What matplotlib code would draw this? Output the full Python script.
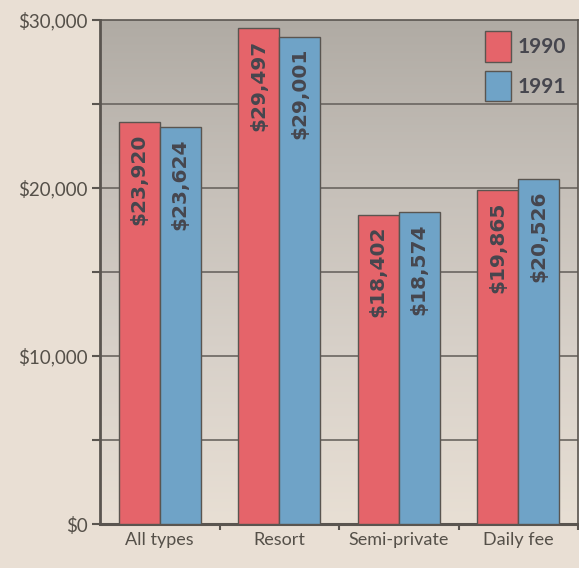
import matplotlib
matplotlib.use("Agg")
import matplotlib.pyplot as plt
import numpy as np
from matplotlib.colors import LinearSegmentedColormap

categories = ["All types", "Resort", "Semi-private", "Daily fee"]
series_1990 = [23920, 29497, 18402, 19865]
series_1991 = [23624, 29001, 18574, 20526]
labels_1990 = ["$23,920", "$29,497", "$18,402", "$19,865"]
labels_1991 = ["$23,624", "$29,001", "$18,574", "$20,526"]
ytick_vals = [0, 10000, 20000, 30000]
ytick_labels = ["$0", "$10,000", "$20,000", "$30,000"]

plt.rcParams['font.family'] = ['Lato', 'DejaVu Sans']

paper = "#e9dfd4"
red = "#e5646a"
blue = "#6fa3c7"
edge = "#5a5550"
textc = "#555049"

fig = plt.figure(figsize=(5.79, 5.68), dpi=100, facecolor=paper)
ax = fig.add_axes([100/579, 44/568, 478/579, 504/568])
ax.set_facecolor(paper)

x = np.arange(len(categories))
w = 0.345
ax.set_xlim(-0.5, len(categories) - 0.5)
ax.set_ylim(0, 30000)

# gradient background
cmap = LinearSegmentedColormap.from_list("bg", ["#e8dfd4", "#d8d1c9", "#c6c0b9", "#b0aba4"])
grad = np.linspace(0, 1, 256).reshape(-1, 1)
ax.imshow(grad, extent=[-0.5, len(categories) - 0.5, 0, 30000], origin="lower",
          aspect="auto", cmap=cmap, zorder=0)

for yv in range(5000, 30000, 5000):
    ax.axhline(yv, color="#6a6560", lw=1.2, zorder=1)

b1 = ax.bar(x - w/2, series_1990, w, color=red, edgecolor=edge, lw=1.0, zorder=3)
b2 = ax.bar(x + w/2, series_1991, w, color=blue, edgecolor=edge, lw=1.0, zorder=3)

for bars, labs in ((b1, labels_1990), (b2, labels_1991)):
    for rect, lab in zip(bars, labs):
        ax.annotate(lab, (rect.get_x() + rect.get_width()/2, rect.get_height()),
                    xytext=(0, -8), textcoords="offset points", rotation=90,
                    ha="center", va="top", fontsize=14.5, fontweight="bold",
                    family="DejaVu Sans", color="#46464e", zorder=4)

all_ticks = list(range(0, 30001, 5000))
ax.set_yticks(all_ticks)
ax.set_yticklabels([ytick_labels[ytick_vals.index(v)] if v in ytick_vals else "" for v in all_ticks],
                   fontsize=13.5, color=textc)
ax.set_xticks(x)
ax.set_xticklabels(categories, fontsize=13, color=textc)
ax.tick_params(axis="x", length=0, pad=6)
ax.tick_params(axis="y", length=6, width=1.5, color="#5a5550", pad=3)
ax.set_xticks(np.arange(0.5, len(categories), 1), minor=True)
ax.tick_params(axis="x", which="minor", length=4, width=1.5, color="#5a5550", direction="out")

for s in ["left", "bottom", "top", "right"]:
    ax.spines[s].set_color("#5a5550")
ax.spines["left"].set_linewidth(2)
ax.spines["bottom"].set_linewidth(2.2)
ax.spines["top"].set_linewidth(1.2)
ax.spines["right"].set_linewidth(1.2)

# legend
leg = ax.legend([b1, b2], ["1990", "1991"], loc="upper right", frameon=False,
                prop={"weight": "bold", "size": 15}, handlelength=1.25, handleheight=1.85,
                labelspacing=0.45, handletextpad=0.35, borderaxespad=0.15)
for t in leg.get_texts():
    t.set_color("#46464e")

fig.savefig("out.png", dpi=100, facecolor=paper)
